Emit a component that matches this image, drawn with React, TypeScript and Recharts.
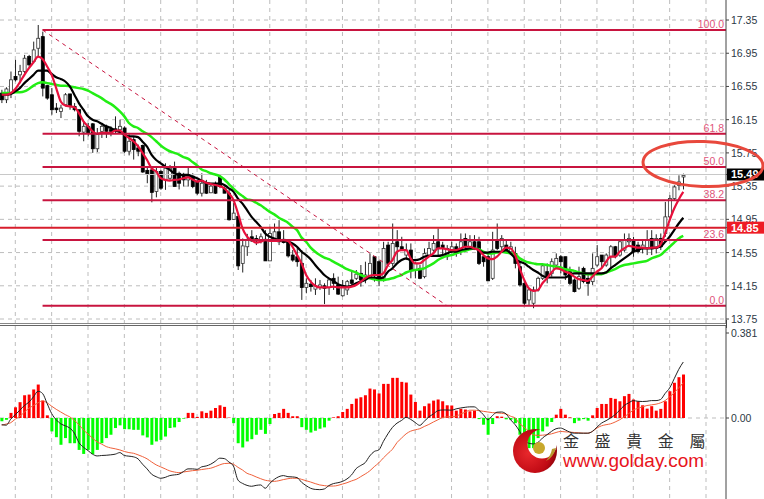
import {
  ComposedChart,
  Bar,
  Line,
  Cell,
  XAxis,
  YAxis,
  CartesianGrid,
  ReferenceLine,
} from 'recharts'

// price candles, oldest first
const OPENS = [
  16.47, 16.39, 16.47, 16.67, 16.69, 16.73, 16.91, 16.85, 17.01, 17.15,
  16.56, 16.45, 16.29, 16.25, 16.33, 16.46, 16.31, 16.27, 16.0, 16.07,
  16.1, 15.8, 16.01, 16.07, 16.03, 16.04, 16.03, 16.05, 15.77, 15.91,
  15.81, 15.84, 15.54, 15.545, 15.285, 15.525, 15.425, 15.445, 15.565, 15.505,
  15.485, 15.425, 15.47, 15.405, 15.265, 15.385, 15.27, 15.365, 15.465, 15.325,
  15.265, 14.95, 14.985, 14.42, 14.62, 14.74, 14.72, 14.69, 14.71, 14.45,
  14.72, 14.8, 14.71, 14.69, 14.52, 14.5, 14.42, 14.13, 14.17, 14.11,
  14.13, 14.15, 14.13, 14.24, 14.16, 14.03, 14.1, 14.22, 14.24, 14.3,
  14.24, 14.25, 14.5, 14.44, 14.24, 14.64, 14.42, 14.68, 14.62, 14.52,
  14.58, 14.34, 14.36, 14.26, 14.52, 14.58, 14.68, 14.64, 14.5, 14.58,
  14.62, 14.58, 14.72, 14.62, 14.68, 14.68, 14.5, 14.5, 14.24, 14.7,
  14.62, 14.64, 14.56, 14.54, 14.38, 14.18, 13.98, 13.94, 14.1, 14.24,
  14.32, 14.3, 14.4, 14.5, 14.5, 14.32, 14.22, 14.12, 14.36, 14.24,
  14.2, 14.4, 14.52, 14.4, 14.5, 14.62, 14.52, 14.58, 14.68, 14.7,
  14.64, 14.6, 14.6, 14.72, 14.6, 14.72, 14.78, 14.98, 15.2, 15.36, 15.46,
]
const HIGHS = [
  16.51, 16.54, 16.73, 16.87, 16.81, 16.93, 16.93, 17.09, 17.29, 17.21,
  16.57, 16.53, 16.35, 16.33, 16.47, 16.46, 16.35, 16.27, 16.13, 16.11,
  16.11, 16.05, 16.09, 16.09, 16.07, 16.19, 16.15, 16.07, 15.99, 15.95,
  15.85, 15.85, 15.585, 15.565, 15.585, 15.545, 15.625, 15.605, 15.645, 15.525,
  15.51, 15.585, 15.505, 15.425, 15.505, 15.425, 15.385, 15.405, 15.485, 15.345,
  15.305, 15.145, 15.025, 14.72, 14.775, 14.82, 14.76, 14.78, 14.82, 14.86,
  14.9, 14.94, 14.82, 14.71, 14.58, 14.62, 14.58, 14.24, 14.22, 14.24,
  14.22, 14.18, 14.24, 14.3, 14.26, 14.22, 14.22, 14.32, 14.34, 14.4,
  14.44, 14.54, 14.5, 14.46, 14.68, 14.68, 14.9, 14.82, 14.74, 14.66,
  14.66, 14.44, 14.4, 14.6, 14.68, 14.76, 14.84, 14.68, 14.64, 14.68,
  14.66, 14.78, 14.78, 14.76, 14.76, 14.74, 14.52, 14.54, 14.8, 14.9,
  14.76, 14.7, 14.68, 14.62, 14.44, 14.2, 14.12, 14.14, 14.26, 14.4,
  14.42, 14.48, 14.54, 14.52, 14.5, 14.38, 14.24, 14.38, 14.38, 14.3,
  14.54, 14.64, 14.52, 14.54, 14.64, 14.63, 14.7, 14.78, 14.78, 14.74,
  14.68, 14.7, 14.82, 14.82, 14.77, 14.78, 15.16, 15.24, 15.36, 15.48, 15.5,
]
const LOWS = [
  16.35, 16.35, 16.41, 16.61, 16.59, 16.71, 16.79, 16.83, 16.91, 16.43,
  16.39, 16.21, 16.23, 16.17, 16.31, 16.27, 16.25, 15.95, 15.89, 15.95,
  15.75, 15.76, 15.93, 15.93, 15.95, 15.99, 15.99, 15.75, 15.72, 15.67,
  15.71, 15.51, 15.385, 15.155, 15.215, 15.305, 15.305, 15.425, 15.345, 15.31,
  15.345, 15.345, 15.325, 15.245, 15.225, 15.255, 15.265, 15.255, 15.325, 15.265,
  14.935, 14.945, 14.34, 14.31, 14.51, 14.68, 14.64, 14.66, 14.45, 14.45,
  14.7, 14.64, 14.66, 14.49, 14.44, 14.38, 13.98, 14.06, 14.08, 14.04,
  14.1, 13.93, 14.04, 14.1, 14.04, 14.02, 14.04, 14.14, 14.22, 14.14,
  14.18, 14.24, 14.2, 14.15, 14.2, 14.4, 14.38, 14.44, 14.58, 14.46,
  14.24, 14.24, 14.23, 14.24, 14.5, 14.56, 14.5, 14.52, 14.46, 14.54,
  14.5, 14.52, 14.58, 14.6, 14.58, 14.4, 14.38, 14.21, 14.22, 14.58,
  14.56, 14.54, 14.52, 14.36, 14.14, 13.92, 13.92, 13.88, 14.08, 14.22,
  14.18, 14.26, 14.36, 14.3, 14.22, 14.16, 14.07, 14.1, 14.18, 14.03,
  14.16, 14.38, 14.36, 14.38, 14.36, 14.48, 14.5, 14.56, 14.62, 14.5,
  14.54, 14.54, 14.52, 14.52, 14.54, 14.58, 14.74, 14.96, 15.18, 15.3, 15.31,
]
const CLOSES = [
  16.39, 16.52, 16.63, 16.63, 16.73, 16.89, 16.81, 16.99, 17.13, 16.53,
  16.41, 16.27, 16.27, 16.29, 16.45, 16.31, 16.27, 16.01, 16.07, 15.99,
  15.8, 15.97, 16.07, 16.01, 16.01, 16.03, 16.07, 15.77, 15.89, 15.79,
  15.77, 15.52, 15.5, 15.275, 15.525, 15.325, 15.565, 15.565, 15.345, 15.385,
  15.425, 15.465, 15.345, 15.265, 15.385, 15.265, 15.35, 15.265, 15.345, 15.265,
  14.945, 15.025, 14.39, 14.63, 14.7, 14.69, 14.69, 14.74, 14.45, 14.78,
  14.8, 14.68, 14.67, 14.51, 14.46, 14.44, 14.13, 14.18, 14.14, 14.15,
  14.16, 14.12, 14.22, 14.18, 14.05, 14.14, 14.2, 14.18, 14.29, 14.22,
  14.28, 14.42, 14.28, 14.24, 14.6, 14.42, 14.66, 14.62, 14.59, 14.58,
  14.34, 14.42, 14.24, 14.54, 14.6, 14.66, 14.6, 14.61, 14.6, 14.62,
  14.54, 14.68, 14.62, 14.68, 14.62, 14.42, 14.44, 14.21, 14.58, 14.6,
  14.72, 14.58, 14.62, 14.42, 14.16, 13.94, 14.1, 14.1, 14.24, 14.39,
  14.26, 14.44, 14.48, 14.44, 14.28, 14.18, 14.08, 14.26, 14.2, 14.18,
  14.36, 14.5, 14.44, 14.52, 14.62, 14.5, 14.68, 14.7, 14.72, 14.56,
  14.56, 14.64, 14.7, 14.6, 14.72, 14.62, 14.98, 15.2, 15.34, 15.4, 15.48,
]

// moving averages
const MA_FAST = [
  16.45, 16.45, 16.47, 16.52, 16.6, 16.69, 16.77, 16.84, 16.91, 16.88,
  16.79, 16.69, 16.53, 16.37, 16.32, 16.31, 16.3, 16.23, 16.13, 16.07,
  16.01, 15.98, 15.99, 15.99, 15.99, 16.02, 16.02, 15.97, 15.93, 15.89,
  15.83, 15.75, 15.665, 15.565, 15.525, 15.445, 15.425, 15.416, 15.425, 15.43,
  15.445, 15.456, 15.43, 15.405, 15.416, 15.39, 15.376, 15.364, 15.35, 15.324,
  15.264, 15.184, 15.023, 14.842, 14.742, 14.7, 14.67, 14.68, 14.7, 14.69,
  14.69, 14.69, 14.7, 14.69, 14.62, 14.52, 14.42, 14.28, 14.2, 14.15,
  14.13, 14.13, 14.13, 14.14, 14.13, 14.13, 14.13, 14.14, 14.16, 14.2,
  14.24, 14.27, 14.28, 14.28, 14.3, 14.4, 14.46, 14.56, 14.58, 14.58,
  14.48, 14.42, 14.42, 14.46, 14.5, 14.54, 14.6, 14.6, 14.59, 14.58,
  14.58, 14.6, 14.62, 14.62, 14.6, 14.58, 14.52, 14.48, 14.47, 14.5,
  14.56, 14.61, 14.6, 14.52, 14.36, 14.22, 14.12, 14.09, 14.1, 14.18,
  14.24, 14.31, 14.36, 14.35, 14.32, 14.3, 14.26, 14.23, 14.22, 14.21,
  14.26, 14.32, 14.36, 14.44, 14.5, 14.5, 14.56, 14.6, 14.63, 14.62,
  14.61, 14.61, 14.6, 14.61, 14.61, 14.65, 14.78, 14.94, 15.08, 15.19, 15.28,
]
const MA_MID = [
  16.45, 16.45, 16.46, 16.49, 16.53, 16.59, 16.64, 16.69, 16.74, 16.74,
  16.74, 16.7, 16.66, 16.64, 16.61, 16.55, 16.45, 16.35, 16.27, 16.19,
  16.15, 16.13, 16.1, 16.07, 16.05, 16.02, 16.0, 15.97, 15.95, 15.95,
  15.94, 15.885, 15.825, 15.725, 15.665, 15.625, 15.585, 15.545, 15.505, 15.485,
  15.485, 15.485, 15.465, 15.445, 15.416, 15.39, 15.38, 15.38, 15.38, 15.364,
  15.324, 15.284, 15.2, 15.14, 15.06, 14.98, 14.92, 14.86, 14.78, 14.74,
  14.72, 14.7, 14.69, 14.68, 14.66, 14.62, 14.56, 14.52, 14.47, 14.4,
  14.34, 14.28, 14.24, 14.21, 14.17, 14.15, 14.14, 14.15, 14.18, 14.2,
  14.22, 14.25, 14.25, 14.24, 14.25, 14.32, 14.36, 14.42, 14.46, 14.48,
  14.46, 14.46, 14.47, 14.5, 14.51, 14.51, 14.51, 14.52, 14.54, 14.56,
  14.56, 14.58, 14.59, 14.6, 14.6, 14.58, 14.55, 14.55, 14.56, 14.56,
  14.56, 14.58, 14.54, 14.48, 14.44, 14.42, 14.38, 14.34, 14.31, 14.27,
  14.25, 14.25, 14.25, 14.25, 14.25, 14.28, 14.3, 14.3, 14.3, 14.3,
  14.3, 14.3, 14.3, 14.31, 14.36, 14.4, 14.44, 14.48, 14.52, 14.56,
  14.58, 14.6, 14.6, 14.6, 14.61, 14.62, 14.68, 14.74, 14.82, 14.9, 14.97,
]
const MA_SLOW = [
  16.47, 16.47, 16.47, 16.48, 16.48, 16.49, 16.52, 16.56, 16.59, 16.6,
  16.59, 16.58, 16.57, 16.56, 16.56, 16.55, 16.54, 16.53, 16.52, 16.5,
  16.47, 16.44, 16.41, 16.37, 16.34, 16.3, 16.25, 16.19, 16.11, 16.07,
  16.05, 16.01, 15.98, 15.94, 15.89, 15.84, 15.8, 15.77, 15.75, 15.73,
  15.7, 15.68, 15.64, 15.6, 15.55, 15.53, 15.505, 15.49, 15.47, 15.43,
  15.375, 15.32, 15.27, 15.23, 15.19, 15.18, 15.15, 15.12, 15.08, 15.04,
  15.01, 14.97, 14.94, 14.91, 14.86, 14.82, 14.73, 14.68, 14.61, 14.56,
  14.52, 14.49, 14.47, 14.44, 14.41, 14.38, 14.35, 14.33, 14.31, 14.28,
  14.26, 14.24, 14.23, 14.22, 14.22, 14.23, 14.24, 14.26, 14.28, 14.31,
  14.33, 14.34, 14.35, 14.36, 14.39, 14.42, 14.46, 14.49, 14.51, 14.52,
  14.54, 14.56, 14.57, 14.59, 14.6, 14.59, 14.56, 14.54, 14.54, 14.55,
  14.56, 14.55, 14.54, 14.53, 14.48, 14.45, 14.43, 14.42, 14.41, 14.41,
  14.4, 14.39, 14.38, 14.37, 14.35, 14.34, 14.33, 14.31, 14.3, 14.29,
  14.29, 14.29, 14.29, 14.31, 14.33, 14.35, 14.38, 14.4, 14.41, 14.42,
  14.43, 14.44, 14.45, 14.48, 14.5, 14.52, 14.57, 14.62, 14.67, 14.72, 14.75,
]

// lower panel: histogram, main line, signal line
const MACD_HIST = [
  -0.015, -0.008, 0.023, 0.048, 0.071, 0.102, 0.105, 0.128, 0.15, 0.078,
  0.012, -0.06, -0.086, -0.12, -0.09, -0.113, -0.113, -0.143, -0.161, -0.143,
  -0.162, -0.143, -0.113, -0.09, -0.075, -0.045, -0.033, -0.05, -0.05, -0.053,
  -0.053, -0.078, -0.087, -0.12, -0.105, -0.098, -0.083, -0.045, -0.042, -0.018,
  -0.003, 0.023, 0.023, 0.005, 0.03, 0.023, 0.033, 0.045, 0.057, 0.05,
  0.002, -0.023, -0.113, -0.132, -0.105, -0.095, -0.075, -0.053, -0.071, -0.027,
  0.018, 0.023, 0.041, 0.023, 0.008, 0.008, -0.041, -0.053, -0.065, -0.057,
  -0.048, -0.042, -0.012, 0.003, 0.008, 0.027, 0.041, 0.063, 0.087, 0.093,
  0.102, 0.132, 0.128, 0.11, 0.153, 0.153, 0.18, 0.18, 0.162, 0.159,
  0.105, 0.072, 0.033, 0.053, 0.065, 0.078, 0.083, 0.075, 0.057, 0.056,
  0.033, 0.041, 0.038, 0.03, 0.033, -0.005, -0.03, -0.075, -0.027, 0.008,
  0.006, -0.006, -0.008, -0.023, -0.075, -0.105, -0.135, -0.135, -0.09, -0.06,
  -0.038, -0.018, 0.015, 0.041, 0.015, 0.003, -0.023, -0.012, -0.005, -0.012,
  0.012, 0.045, 0.063, 0.063, 0.09, 0.086, 0.075, 0.098, 0.108, 0.083,
  0.075, 0.057, 0.042, 0.053, 0.033, 0.041, 0.075, 0.12, 0.158, 0.183, 0.195,
]
const MACD_MAIN = [
  -0.03, -0.032, -0.005, 0.015, 0.035, 0.056, 0.071, 0.095, 0.12, 0.11,
  0.065, 0.02, -0.008, -0.026, -0.035, -0.045, -0.068, -0.11, -0.131, -0.146,
  -0.162, -0.17, -0.168, -0.167, -0.165, -0.162, -0.155, -0.168, -0.171, -0.174,
  -0.183, -0.207, -0.228, -0.252, -0.263, -0.27, -0.266, -0.258, -0.255, -0.252,
  -0.24, -0.228, -0.228, -0.23, -0.219, -0.215, -0.207, -0.194, -0.18, -0.182,
  -0.197, -0.215, -0.278, -0.293, -0.302, -0.306, -0.302, -0.3, -0.315, -0.293,
  -0.275, -0.263, -0.258, -0.263, -0.264, -0.267, -0.288, -0.303, -0.315, -0.32,
  -0.321, -0.318, -0.303, -0.294, -0.29, -0.284, -0.273, -0.255, -0.227, -0.213,
  -0.2, -0.17, -0.15, -0.143, -0.105, -0.071, -0.042, -0.023, -0.011, 0.003,
  -0.006, -0.02, -0.033, -0.015, 0.005, 0.018, 0.033, 0.036, 0.036, 0.035,
  0.041, 0.045, 0.048, 0.05, 0.05, 0.035, 0.015, -0.008, 0.011, 0.026,
  0.027, 0.018, -0.008, -0.03, -0.06, -0.098, -0.113, -0.116, -0.11, -0.09,
  -0.075, -0.06, -0.048, -0.045, -0.053, -0.063, -0.068, -0.068, -0.068, -0.068,
  -0.06, -0.041, -0.023, -0.012, 0, 0.015, 0.035, 0.056, 0.068, 0.078,
  0.075, 0.074, 0.075, 0.078, 0.078, 0.083, 0.11, 0.135, 0.176, 0.218, 0.251,
]
const MACD_SIGNAL = [
  -0.032, -0.027, -0.021, -0.005, 0.008, 0.026, 0.044, 0.056, 0.068, 0.077,
  0.068, 0.053, 0.039, 0.027, 0.015, 0.005, -0.011, -0.03, -0.053, -0.072,
  -0.09, -0.107, -0.117, -0.128, -0.134, -0.138, -0.143, -0.15, -0.155, -0.158,
  -0.165, -0.173, -0.183, -0.197, -0.21, -0.219, -0.228, -0.237, -0.242, -0.245,
  -0.242, -0.239, -0.236, -0.234, -0.231, -0.228, -0.225, -0.218, -0.21, -0.204,
  -0.203, -0.207, -0.221, -0.233, -0.248, -0.255, -0.264, -0.272, -0.279, -0.282,
  -0.284, -0.281, -0.276, -0.272, -0.27, -0.27, -0.275, -0.281, -0.287, -0.294,
  -0.3, -0.303, -0.305, -0.305, -0.302, -0.296, -0.29, -0.282, -0.275, -0.263,
  -0.251, -0.237, -0.218, -0.201, -0.179, -0.159, -0.14, -0.11, -0.09, -0.071,
  -0.059, -0.053, -0.048, -0.038, -0.029, -0.018, -0.008, 0.002, 0.005, 0.006,
  0.008, 0.018, 0.026, 0.035, 0.035, 0.033, 0.03, 0.027, 0.024, 0.023,
  0.021, 0.018, 0.008, 0, -0.026, -0.041, -0.06, -0.075, -0.078, -0.077,
  -0.075, -0.071, -0.065, -0.06, -0.062, -0.063, -0.065, -0.066, -0.068, -0.068,
  -0.06, -0.045, -0.035, -0.03, -0.026, -0.018, -0.008, 0.005, 0.02, 0.035,
  0.044, 0.05, 0.056, 0.059, 0.062, 0.068, 0.078, 0.095, 0.113, 0.135, 0.158,
]

const PRICE_TICKS = [17.35, 16.95, 16.55, 16.15, 15.75, 15.35, 14.95, 14.55, 14.15, 13.75]
const LAST_PRICE = 15.49
const SUPPORT_PRICE = 14.85
const MACD_TICKS = [0.381, 0]
const TIME_GRID = [3, 11, 19, 27, 35, 43, 51, 59, 67, 75, 83, 91, 99, 107, 115, 123, 131, 139, 147, 155]
const FIB_LEVELS = [17.23, 15.98, 15.58, 15.18, 14.7, 13.91]
const FIB_LABELS = ['100.0', '61.8', '50.0', '38.2', '23.6', '0.0']

const candles = OPENS.map((open, i) => ({
  i,
  open,
  close: CLOSES[i],
  range: [LOWS[i], HIGHS[i]],
  fast: MA_FAST[i],
  mid: MA_MID[i],
  slow: MA_SLOW[i],
}))
const macdRows = MACD_HIST.map((hist, i) => ({ i, hist, main: MACD_MAIN[i], signal: MACD_SIGNAL[i] }))

const X_DOMAIN: [number, number] = [-0.367, 159.4]
const FONT = '"Liberation Sans", Arial, sans-serif'
const FIB_COLOR = '#c8143f'

function Candle(props: any) {
  const { x, y, width, height, payload } = props
  const [low, high] = payload.range
  const scale = height / (high - low)
  const cx = x + width / 2
  const top = y + (high - Math.max(payload.open, payload.close)) * scale
  const bodyH = Math.max(Math.abs(payload.open - payload.close) * scale, 1)
  const up = payload.close >= payload.open
  return (
    <g>
      <line x1={cx} x2={cx} y1={y} y2={y + height} stroke="#222" strokeWidth={1} />
      <rect x={cx - 1.5} y={top} width={3} height={bodyH} fill={up ? '#fff' : '#000'} stroke={up ? '#333' : '#000'} strokeWidth={0.8} />
    </g>
  )
}

function PriceTick(props: any) {
  const { y, payload } = props
  const v = payload.value
  if (v === LAST_PRICE || v === SUPPORT_PRICE) {
    return (
      <g>
        <rect x={727} y={y - 6} width={37} height={12} fill={v === LAST_PRICE ? '#000' : '#ee1c25'} />
        <text x={731} y={y + 4} fontFamily={FONT} fontSize={11} fontWeight="bold" fill="#fff">{v.toFixed(2)}</text>
      </g>
    )
  }
  return <text x={731} y={y + 4} fontFamily={FONT} fontSize={10.5} fill="#2c3844">{v.toFixed(2)}</text>
}

function MacdTick(props: any) {
  const { y, payload } = props
  const label = payload.value === 0 ? '0.00' : String(payload.value)
  return <text x={731} y={y + 4} fontFamily={FONT} fontSize={10.5} fill="#2c3844">{label}</text>
}

function Watermark() {
  return (
    <svg width={764} height={499} style={{ position: 'absolute', left: 0, top: 0 }}>
      <defs>
        <radialGradient id="logoRed" cx="35%" cy="55%" r="70%">
          <stop offset="0%" stopColor="#e8282c" />
          <stop offset="70%" stopColor="#c00a14" />
          <stop offset="100%" stopColor="#7c0208" />
        </radialGradient>
        <mask id="crescent">
          <rect x={500} y={420} width={80} height={70} fill="#fff" />
          <circle cx={542} cy={444} r={14.5} fill="#000" />
        </mask>
      </defs>
      <ellipse cx={703} cy={164} rx={60} ry={22.5} fill="none" stroke="#e8483c" strokeWidth={3} transform="rotate(2 703 164)" />
      <circle cx={535} cy={451} r={22} fill="url(#logoRed)" mask="url(#crescent)" />
      <circle cx={539} cy={448} r={6} fill="#c8a82c" />
      <path d="M556 448 Q553 458 546 461 Q551 455 552 449 Z" fill="#b89a30" />
      <text x={563} y={447} fontFamily='"Noto Sans CJK TC"' fontSize={16} letterSpacing={15.6} fill="#333">金盛貴金屬</text>
      <text x={563} y={467} fontFamily={FONT} fontSize={19} fill="#e8141c">www.golday.com</text>
    </svg>
  )
}

export default function App() {
  return (
    <div style={{ position: 'absolute', left: 0, top: 0, width: 764, height: 499, background: '#fff', overflow: 'hidden' }}>
      <div style={{ position: 'absolute', left: 0, top: 0 }}>
        <ComposedChart width={764} height={327} data={candles} margin={{ top: 0, right: 0, bottom: 4, left: 0 }}>
          <CartesianGrid stroke="#bdbdbd" strokeDasharray="4 4" horizontalValues={PRICE_TICKS} verticalValues={TIME_GRID} />
          <XAxis dataKey="i" type="number" domain={X_DOMAIN} hide allowDataOverflow />
          <YAxis
            orientation="right"
            width={38}
            domain={[13.702, 17.591]}
            ticks={[...PRICE_TICKS, LAST_PRICE, SUPPORT_PRICE]}
            interval={0}
            tick={<PriceTick />}
            tickSize={3}
            stroke="#444"
            allowDataOverflow
          />
          <ReferenceLine y={LAST_PRICE} stroke="#c8c8c8" strokeWidth={1} />
          <Bar dataKey="range" barSize={3} shape={<Candle />} isAnimationActive={false} />
          <Line dataKey="slow" type="monotone" stroke="#22ee14" strokeWidth={2.5} dot={false} isAnimationActive={false} />
          <Line dataKey="mid" type="monotone" stroke="#000" strokeWidth={2.2} dot={false} isAnimationActive={false} />
          <Line dataKey="fast" type="monotone" stroke="#e8103c" strokeWidth={2.2} dot={false} isAnimationActive={false} />
          <ReferenceLine y={SUPPORT_PRICE} stroke="#d81e2c" strokeWidth={2} />
          <ReferenceLine
            segment={[{ x: 9, y: FIB_LEVELS[0] }, { x: 98, y: FIB_LEVELS[5] }]}
            stroke={FIB_COLOR}
            strokeWidth={1}
            strokeDasharray="4 4"
          />
          {FIB_LEVELS.map((level, n) => (
            <ReferenceLine
              key={level}
              segment={[{ x: 9, y: level }, { x: X_DOMAIN[1], y: level }]}
              stroke={FIB_COLOR}
              strokeWidth={2}
              label={{ value: FIB_LABELS[n], position: 'insideBottomRight', offset: 2, fill: '#e0557a', fontSize: 10.5, fontFamily: FONT }}
            />
          ))}
        </ComposedChart>
      </div>
      <div style={{ position: 'absolute', left: 0, top: 323, width: 726, height: 1, background: '#888' }} />
      <div style={{ position: 'absolute', left: 0, top: 325, width: 726, height: 1, background: '#666' }} />
      <div style={{ position: 'absolute', left: 726, top: 320, width: 1, height: 8, background: '#444' }} />
      <div style={{ position: 'absolute', left: 0, top: 326 }}>
        <ComposedChart width={764} height={173} data={macdRows} margin={{ top: 0, right: 0, bottom: 0, left: 0 }}>
          <CartesianGrid stroke="#bdbdbd" strokeDasharray="4 4" horizontalValues={[0]} verticalValues={TIME_GRID} />
          <XAxis dataKey="i" type="number" domain={X_DOMAIN} hide allowDataOverflow />
          <YAxis
            orientation="right"
            width={38}
            domain={[-0.363, 0.4124]}
            ticks={MACD_TICKS}
            interval={0}
            tick={<MacdTick />}
            tickSize={3}
            stroke="#444"
            allowDataOverflow
          />
          <Bar dataKey="hist" barSize={3} isAnimationActive={false}>
            {macdRows.map((row) => (
              <Cell key={row.i} fill={row.hist >= 0 ? '#ff0000' : '#00ff00'} />
            ))}
          </Bar>
          <Line dataKey="signal" type="monotone" stroke="#f0603a" strokeWidth={1} dot={false} isAnimationActive={false} />
          <Line dataKey="main" type="monotone" stroke="#222" strokeWidth={1} dot={false} isAnimationActive={false} />
        </ComposedChart>
      </div>
      <Watermark />
    </div>
  )
}
